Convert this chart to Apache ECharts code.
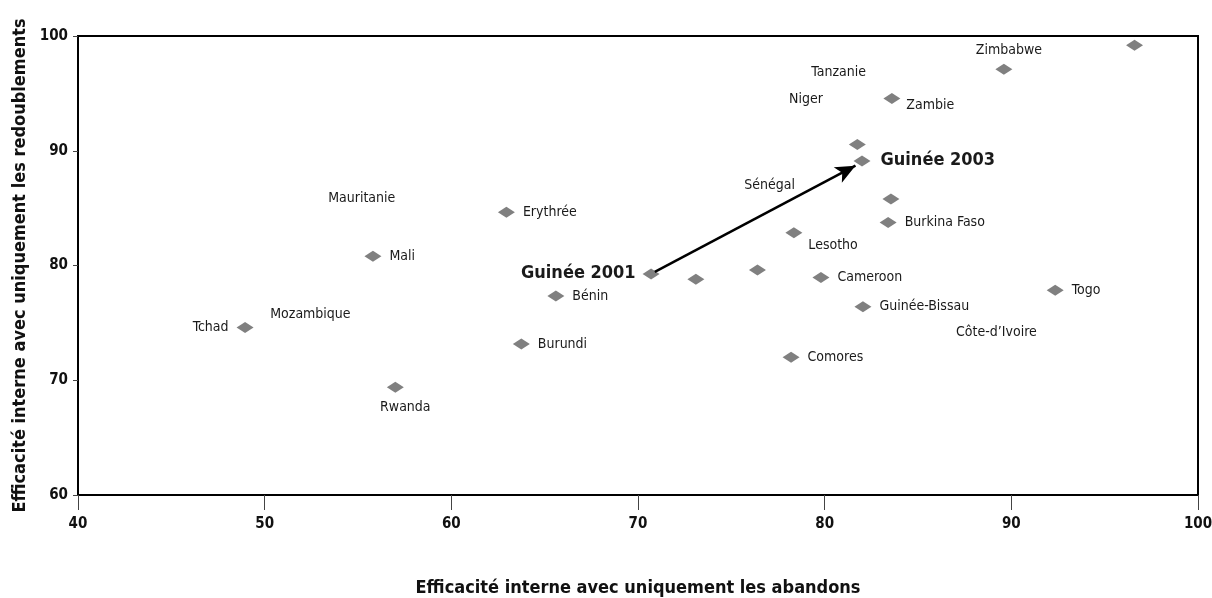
<!DOCTYPE html>
<html><head><meta charset="utf-8">
<script src="https://cdn.jsdelivr.net/npm/echarts@6/dist/echarts.min.js"></script>
<style>html,body{margin:0;padding:0;background:#fff}#c{width:1212px;height:598px}</style>
</head><body><div id="c"></div>
<script>
// Diamond points: [abandons, redoublements, label]
const pointNames = ['', 'Zimbabwe', 'Zambie', '', 'Guinée 2003', '', 'Burkina Faso', 'Lesotho', '', 'Cameroon', 'Togo', 'Guinée-Bissau', 'Comores', '', 'Guinée 2001', 'Bénin', 'Erythrée', 'Mali', 'Tchad', 'Burundi', 'Rwanda'];
const xValues = [96.6, 89.6, 83.6, 81.75, 82.0, 83.55, 83.4, 78.35, 76.4, 79.8, 92.35, 82.05, 78.2, 73.1, 70.7, 65.6, 62.95, 55.8, 48.95, 63.75, 57.0];
const yValues = [99.2, 97.1, 94.55, 90.55, 89.1, 85.8, 83.75, 82.85, 79.6, 78.95, 77.85, 76.4, 72.0, 78.8, 79.25, 77.35, 84.65, 80.8, 74.6, 73.15, 69.4];
// Floating labels (no marker)
const freeNames = ['Mauritanie', 'Mozambique', 'Tanzanie', 'Niger', 'Sénégal', 'Côte-d\u2019Ivoire'];
const freeX = [55.2, 52.45, 80.75, 79.0, 77.05, 89.2];
const freeY = [85.85, 75.7, 96.8, 94.5, 86.95, 74.2];
// Arrow from Guinée 2001 to Guinée 2003
const arrowFrom = [70.9, 79.45];
const arrowTo = [81.65, 88.7];
const xTicks = [40, 50, 60, 70, 80, 90, 100];
const yTicks = [60, 70, 80, 90, 100];

const FONT = '"Liberation Sans Narrow", "DejaVu Sans Condensed", Arial, sans-serif';
const placement = {
  'Zimbabwe': {position: 'top', offset: [5, 0]},
  'Zambie': {position: 'right', offset: [0, 7]},
  'Lesotho': {position: 'right', offset: [0, 13]},
  'Tchad': {position: 'left', offset: [-2, 0]},
  'Rwanda': {position: 'bottom', offset: [10, 2]},
  'Guinée 2001': {position: 'left', offset: [-1, -1], bold: true},
  'Guinée 2003': {position: 'right', offset: [4, -1], bold: true}
};

const pts = pointNames.map((n, i) => {
  const p = placement[n] || {position: 'right', offset: [2, 0]};
  return {
    value: [xValues[i], yValues[i]],
    name: n,
    label: {
      show: n !== '', formatter: n, position: p.position, offset: p.offset,
      fontSize: p.bold ? 18 : 14, fontWeight: p.bold ? 'bold' : 'normal',
      color: '#1a1a1a', fontFamily: FONT, distance: 6
    }
  };
});
const free = freeNames.map((n, i) => ({value: [freeX[i], freeY[i]], name: n}));

const chart = echarts.init(document.getElementById('c'), null, {renderer: 'canvas'});
chart.setOption({
  animation: false,
  grid: {left: 78, top: 36, right: 14, bottom: 103, containLabel: false, outerBoundsMode: 'none', show: true, borderColor: '#000', borderWidth: 2, backgroundColor: 'transparent'},
  xAxis: {
    type: 'value', min: xTicks[0], max: xTicks[xTicks.length - 1], interval: 10,
    name: 'Efficacité interne avec uniquement les abandons', nameLocation: 'middle', nameGap: 84,
    nameTextStyle: {fontFamily: FONT, fontWeight: 'bold', fontSize: 18, color: '#111'},
    axisLine: {show: true, lineStyle: {color: '#000', width: 2}},
    axisTick: {show: true, inside: false, length: 15, lineStyle: {color: '#444', width: 1}},
    axisLabel: {margin: 22, fontFamily: FONT, fontWeight: 'bold', fontSize: 15, color: '#111'},
    splitLine: {show: false}
  },
  yAxis: {
    type: 'value', min: yTicks[0], max: yTicks[yTicks.length - 1], interval: 10,
    name: 'Efficacité interne avec uniquement les redoublements', nameLocation: 'middle', nameGap: 48,
    nameTextStyle: {fontFamily: FONT, fontWeight: 'bold', fontSize: 18, color: '#111'},
    axisLine: {show: true, lineStyle: {color: '#000', width: 2}},
    axisTick: {show: true, inside: false, length: 5, lineStyle: {color: '#444', width: 1}},
    axisLabel: {margin: 10, fontFamily: FONT, fontWeight: 'bold', fontSize: 15, color: '#111'},
    splitLine: {show: false}
  },
  series: [
    {
      type: 'scatter', symbol: 'diamond', symbolSize: [17, 11],
      itemStyle: {color: '#808080', opacity: 1},
      data: pts,
      markLine: {
        silent: true, symbol: ['none', 'arrow'], symbolSize: [13, 20],
        lineStyle: {color: '#000', width: 2.5, type: 'solid', opacity: 1},
        label: {show: false},
        data: [[{coord: arrowFrom}, {coord: arrowTo}]]
      }
    },
    {
      type: 'scatter', symbolSize: 0, data: free, itemStyle: {opacity: 1},
      label: {show: true, position: 'inside', formatter: p => p.name, fontFamily: FONT, fontSize: 14, color: '#1a1a1a'}
    }
  ]
});
</script></body></html>
